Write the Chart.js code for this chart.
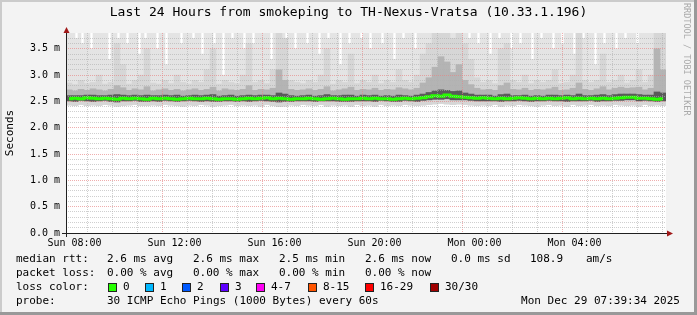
<!DOCTYPE html>
<html>
<head>
<meta charset="utf-8">
<title>Smokeping - TH-Nexus-Vratsa</title>
<script src="https://cdn.jsdelivr.net/npm/chart.js"></script>
<style>
    body { margin: 0; background: #f3f3f3; }
    #wrap { position: relative; width: 697px; height: 315px; overflow: hidden; }
    .t { position: absolute; font: 11px "DejaVu Sans Mono", monospace; line-height: 14px; white-space: pre; color: #000; }
    .box { position: absolute; width: 7px; height: 7px; border: 1px solid #222; }
    #rrd { position: absolute; left: 682px; top: 3px; writing-mode: vertical-rl; font: 8.5px "DejaVu Sans Mono", monospace; color: #aaa; white-space: pre; }
</style>
</head>
<body>
<div id="wrap">
    <canvas id="chart" width="697" height="315"></canvas>

    <div class="t" style="left:16px; top:252px">median rtt:</div>
    <div class="t" style="left:107px; top:252px">2.6 ms avg</div>
    <div class="t" style="left:193px; top:252px">2.6 ms max</div>
    <div class="t" style="left:279px; top:252px">2.5 ms min</div>
    <div class="t" style="left:365px; top:252px">2.6 ms now</div>
    <div class="t" style="left:451px; top:252px">0.0 ms sd</div>
    <div class="t" style="left:530px; top:252px">108.9</div>
    <div class="t" style="left:586px; top:252px">am/s</div>

    <div class="t" style="left:16px; top:266px">packet loss:</div>
    <div class="t" style="left:107px; top:266px">0.00 % avg</div>
    <div class="t" style="left:193px; top:266px">0.00 % max</div>
    <div class="t" style="left:279px; top:266px">0.00 % min</div>
    <div class="t" style="left:365px; top:266px">0.00 % now</div>

    <div class="t" style="left:16px; top:280px">loss color:</div>
    <div id="losskey"></div>

    <div class="t" style="left:16px; top:294px">probe:</div>
    <div class="t" style="left:107px; top:294px">30 ICMP Echo Pings (1000 Bytes) every 60s</div>
    <div class="t" style="right:17px; top:294px">Mon Dec 29 07:39:34 2025</div>

    <div id="rrd">RRDTOOL / TOBI OETIKER</div>
</div>

<script>
    // time axis: hours since Sunday 00:00
    const startHour = 7 + 39 / 60 + 34 / 3600;   // Sun 07:39:34
    const spanHours = 24;
    const colHours = 0.24;                        // smoke column = 14.4 min
    const fineHours = 0.12;                       // max-rtt column = 7.2 min

    const hourTicks = [8, 9, 10, 11, 12, 13, 14, 15, 16, 17, 18, 19, 20, 21, 22, 23, 24, 25, 26, 27, 28, 29, 30, 31];
    const labelHours = [8, 12, 16, 20, 24, 28];
    const labelText = ['Sun 08:00', 'Sun 12:00', 'Sun 16:00', 'Sun 20:00', 'Mon 00:00', 'Mon 04:00'];

    const yMax = 3.8;
    const yLabels = ['0.0 m', '0.5 m', '1.0 m', '1.5 m', '2.0 m', '2.5 m', '3.0 m', '3.5 m'];

    const lossNames = ['0', '1', '2', '3', '4-7', '8-15', '16-29', '30/30'];
    const lossColors = ['#26ff00', '#00b8ff', '#0059ff', '#5e00ff', '#ff00f5', '#ff5500', '#ff0000', '#a00000'];

    // median rtt per column (ms)
    const medianRtt = [
        2.55, 2.56, 2.55, 2.57, 2.56, 2.55, 2.56, 2.55, 2.54, 2.56,
        2.55, 2.56, 2.55, 2.54, 2.56, 2.55, 2.56, 2.55, 2.54, 2.55,
        2.56, 2.55, 2.55, 2.56, 2.55, 2.54, 2.55, 2.55, 2.54, 2.55,
        2.56, 2.55, 2.56, 2.57, 2.55, 2.56, 2.55, 2.54, 2.55, 2.55,
        2.56, 2.55, 2.54, 2.55, 2.56, 2.55, 2.54, 2.55, 2.55, 2.56,
        2.55, 2.56, 2.55, 2.55, 2.54, 2.55, 2.56, 2.55, 2.56, 2.57,
        2.59, 2.61, 2.60, 2.62, 2.60, 2.59, 2.58, 2.57, 2.56, 2.57,
        2.56, 2.55, 2.56, 2.55, 2.56, 2.57, 2.56, 2.55, 2.56, 2.55,
        2.56, 2.55, 2.56, 2.57, 2.55, 2.56, 2.55, 2.56, 2.55, 2.56,
        2.55, 2.56, 2.57, 2.58, 2.58, 2.56, 2.56, 2.55, 2.54, 2.55
    ];
    // fastest ping per column
    const minRtt = [
        2.43, 2.42, 2.44, 2.42, 2.43, 2.42, 2.44, 2.43, 2.41, 2.42,
        2.43, 2.44, 2.42, 2.42, 2.43, 2.42, 2.44, 2.43, 2.42, 2.41,
        2.43, 2.42, 2.44, 2.43, 2.41, 2.42, 2.43, 2.44, 2.42, 2.43,
        2.42, 2.43, 2.41, 2.44, 2.42, 2.40, 2.41, 2.43, 2.42, 2.44,
        2.43, 2.42, 2.44, 2.41, 2.43, 2.42, 2.43, 2.41, 2.44, 2.42,
        2.43, 2.41, 2.44, 2.42, 2.43, 2.42, 2.44, 2.43, 2.42, 2.43,
        2.44, 2.45, 2.46, 2.45, 2.44, 2.45, 2.44, 2.43, 2.42, 2.43,
        2.42, 2.44, 2.41, 2.43, 2.42, 2.44, 2.43, 2.42, 2.41, 2.43,
        2.44, 2.42, 2.43, 2.41, 2.44, 2.42, 2.43, 2.44, 2.42, 2.43,
        2.42, 2.44, 2.43, 2.42, 2.43, 2.41, 2.44, 2.42, 2.43, 2.42
    ];
    // lower edge of the dense smoke around the median
    const lowRtt = [
        2.51, 2.50, 2.52, 2.51, 2.50, 2.51, 2.52, 2.50, 2.49, 2.51,
        2.51, 2.52, 2.50, 2.50, 2.51, 2.50, 2.52, 2.51, 2.50, 2.51,
        2.52, 2.51, 2.50, 2.51, 2.50, 2.50, 2.51, 2.51, 2.50, 2.51,
        2.50, 2.51, 2.52, 2.51, 2.50, 2.49, 2.50, 2.50, 2.51, 2.51,
        2.51, 2.50, 2.51, 2.51, 2.51, 2.50, 2.50, 2.50, 2.51, 2.51,
        2.51, 2.50, 2.52, 2.51, 2.50, 2.50, 2.52, 2.51, 2.50, 2.52,
        2.53, 2.54, 2.54, 2.55, 2.53, 2.53, 2.53, 2.52, 2.51, 2.51,
        2.51, 2.51, 2.50, 2.51, 2.51, 2.52, 2.51, 2.50, 2.51, 2.51,
        2.52, 2.51, 2.51, 2.50, 2.51, 2.51, 2.51, 2.52, 2.50, 2.51,
        2.51, 2.52, 2.52, 2.53, 2.53, 2.51, 2.52, 2.51, 2.50, 2.51
    ];
    // top of the dark core around the median
    const coreTop = [
        2.61, 2.61, 2.61, 2.62, 2.62, 2.61, 2.61, 2.62, 2.63, 2.62,
        2.61, 2.62, 2.61, 2.62, 2.61, 2.61, 2.62, 2.61, 2.62, 2.60,
        2.61, 2.62, 2.61, 2.62, 2.63, 2.60, 2.61, 2.62, 2.60, 2.61,
        2.62, 2.61, 2.62, 2.62, 2.61, 2.66, 2.64, 2.61, 2.60, 2.61,
        2.62, 2.60, 2.61, 2.63, 2.61, 2.61, 2.62, 2.62, 2.60, 2.62,
        2.61, 2.62, 2.60, 2.61, 2.60, 2.62, 2.61, 2.60, 2.62, 2.64,
        2.67, 2.70, 2.72, 2.71, 2.69, 2.70, 2.66, 2.64, 2.62, 2.62,
        2.62, 2.60, 2.63, 2.64, 2.61, 2.61, 2.62, 2.60, 2.61, 2.60,
        2.62, 2.62, 2.61, 2.62, 2.61, 2.64, 2.61, 2.61, 2.62, 2.63,
        2.61, 2.63, 2.64, 2.64, 2.64, 2.63, 2.62, 2.62, 2.68, 2.66
    ];
    // top of the middle grey smoke
    const nearTop = [
        2.72, 2.70, 2.73, 2.71, 2.74, 2.72, 2.70, 2.73, 2.80, 2.76,
        2.71, 2.74, 2.72, 2.78, 2.70, 2.72, 2.74, 2.71, 2.73, 2.70,
        2.72, 2.74, 2.71, 2.73, 2.77, 2.70, 2.74, 2.72, 2.71, 2.73,
        2.80, 2.71, 2.73, 2.72, 2.75, 3.10, 2.90, 2.73, 2.71, 2.72,
        2.74, 2.71, 2.73, 2.78, 2.70, 2.72, 2.74, 2.77, 2.71, 2.73,
        2.72, 2.75, 2.71, 2.73, 2.72, 2.76, 2.74, 2.72, 2.75, 2.85,
        2.95, 3.15, 3.35, 3.25, 3.05, 3.20, 2.90, 2.82, 2.75, 2.72,
        2.73, 2.71, 2.80, 2.85, 2.73, 2.72, 2.75, 2.71, 2.73, 2.72,
        2.74, 2.77, 2.71, 2.72, 2.75, 2.85, 2.73, 2.71, 2.74, 2.78,
        2.72, 2.75, 2.77, 2.75, 2.76, 2.77, 2.72, 2.75, 3.50, 3.10
    ];
    // top of the light-mid grey smoke
    const upperTop = [
        2.85, 2.82, 2.90, 2.84, 2.86, 3.00, 2.83, 2.86, 3.60, 3.20,
        2.83, 2.90, 3.00, 3.50, 2.85, 2.83, 2.90, 2.84, 3.00, 2.86,
        2.83, 2.90, 2.86, 3.10, 3.50, 2.83, 2.90, 2.86, 2.84, 3.00,
        3.60, 2.86, 2.90, 2.84, 3.10, 3.90, 3.70, 2.90, 2.86, 2.84,
        2.90, 2.86, 3.00, 3.50, 2.83, 2.90, 2.86, 3.40, 2.84, 2.90,
        2.86, 3.00, 2.84, 2.90, 2.86, 3.10, 2.90, 2.86, 3.00, 3.40,
        3.60, 3.80, 3.90, 3.90, 3.70, 3.90, 3.60, 3.30, 2.95, 2.86,
        2.90, 2.84, 3.50, 3.60, 2.90, 2.86, 3.00, 2.84, 2.90, 2.86,
        2.90, 3.10, 2.84, 2.86, 3.00, 3.90, 2.90, 2.86, 2.90, 3.40,
        2.86, 2.90, 3.00, 2.85, 2.90, 3.10, 2.86, 3.00, 3.90, 3.90
    ];
    // slowest ping per 7.2 min column (3.9 = off the top of the graph)
    const maxRtt = [
        3.9, 3.9, 3.9, 3.7, 3.9, 3.6, 3.9, 3.9, 3.5, 3.9, 3.9, 3.9, 3.8, 3.9, 3.3, 3.9, 3.9, 3.7, 3.9, 3.9,
        3.6, 3.9, 3.9, 3.9, 3.4, 3.9, 3.7, 3.9, 3.9, 3.9, 3.5, 3.9, 3.9, 3.2, 3.9, 3.9, 3.8, 3.9, 3.6, 3.9,
        3.9, 3.9, 3.7, 3.9, 3.9, 3.4, 3.9, 3.9, 3.9, 3.6, 3.9, 3.9, 3.0, 3.9, 3.9, 3.7, 3.9, 3.9, 3.9, 3.5,
        3.9, 3.9, 3.6, 3.9, 3.9, 3.9, 3.8, 3.9, 3.3, 3.9, 3.9, 3.9, 3.9, 3.7, 3.9, 3.9, 3.5, 3.9, 3.9, 3.9,
        3.6, 3.9, 3.9, 3.9, 3.4, 3.9, 3.9, 3.7, 3.9, 3.9, 3.9, 3.2, 3.9, 3.9, 3.6, 3.9, 3.9, 3.9, 3.7, 3.9,
        3.9, 3.5, 3.9, 3.9, 3.9, 3.6, 3.9, 3.9, 3.9, 3.3, 3.9, 3.9, 3.7, 3.9, 3.9, 3.9, 3.5, 3.9, 3.9, 3.8,
        3.9, 3.9, 3.9, 3.9, 3.9, 3.9, 3.9, 3.9, 3.9, 3.9, 3.9, 3.9, 3.9, 3.9, 3.7, 3.9, 3.9, 3.6, 3.9, 3.9,
        3.9, 3.4, 3.9, 3.9, 3.7, 3.9, 3.9, 3.9, 3.5, 3.9, 3.9, 3.6, 3.9, 3.9, 3.9, 3.3, 3.9, 3.9, 3.7, 3.9,
        3.9, 3.9, 3.5, 3.9, 3.9, 3.6, 3.9, 3.9, 3.9, 3.4, 3.9, 3.9, 3.7, 3.9, 3.9, 3.9, 3.2, 3.9, 3.9, 3.6,
        3.9, 3.9, 3.9, 3.5, 3.9, 3.9, 3.7, 3.9, 3.9, 3.9, 3.6, 3.9, 3.9, 3.9, 3.9, 3.9, 3.9, 3.9, 3.8, 3.9
    ];

    // loss colour key
    const boxLeft = [108, 145, 182, 220, 256, 308, 365, 430];
    const keyDiv = document.getElementById('losskey');
    lossNames.forEach((name, i) => {
        const box = document.createElement('span');
        box.className = 'box';
        box.style.left = boxLeft[i] + 'px';
        box.style.top = '283px';
        box.style.background = lossColors[i];
        keyDiv.appendChild(box);
        const txt = document.createElement('span');
        txt.className = 't';
        txt.style.left = (boxLeft[i] + 15) + 'px';
        txt.style.top = '280px';
        txt.textContent = name;
        keyDiv.appendChild(txt);
    });

    const colX = medianRtt.map((_, i) => startHour + (i + 0.5) * colHours);
    const fineX = maxRtt.map((_, i) => startHour + (i + 0.5) * fineHours);
    function band(lo, hi) {
        return colX.map((x, i) => ({ x: x, y: [lo[i], hi[i]] }));
    }
    function isMajor(v) {
        return Math.abs(v * 2 - Math.round(v * 2)) < 1e-6;
    }

    const majorGrid = 'rgba(230,130,130,0.65)';
    const minorGrid = 'rgba(175,175,175,0.6)';

    // background, plot canvas, frame and the rrdtool style axes
    const rrdFrame = {
        id: 'rrdFrame',
        beforeDraw(chart) {
            const { ctx, chartArea: a, width, height } = chart;
            ctx.save();
            ctx.fillStyle = '#f3f3f3';
            ctx.fillRect(0, 0, width, height);
            ctx.fillStyle = '#cbcbcb';
            ctx.fillRect(0, 0, width, 2);
            ctx.fillRect(0, 0, 2, height);
            ctx.fillStyle = '#999999';
            ctx.fillRect(0, height - 3, width, 3);
            ctx.fillRect(width - 3, 0, 3, height);
            ctx.fillStyle = '#ffffff';
            ctx.fillRect(a.left, a.top, a.right - a.left, a.bottom - a.top);
            ctx.restore();
        },
        afterDraw(chart) {
            const { ctx, chartArea: a } = chart;
            ctx.save();
            ctx.strokeStyle = '#202020';
            ctx.lineWidth = 1;
            ctx.beginPath();
            ctx.moveTo(a.left - 4, a.bottom + 0.5);
            ctx.lineTo(a.right + 2, a.bottom + 0.5);
            ctx.moveTo(a.left + 0.5, a.bottom + 4);
            ctx.lineTo(a.left + 0.5, a.top - 1);
            ctx.stroke();
            ctx.fillStyle = '#a01818';
            ctx.beginPath();
            ctx.moveTo(a.right + 7, a.bottom + 0.5);
            ctx.lineTo(a.right + 1, a.bottom - 2.5);
            ctx.lineTo(a.right + 1, a.bottom + 3.5);
            ctx.closePath();
            ctx.fill();
            ctx.beginPath();
            ctx.moveTo(a.left + 0.5, a.top - 6);
            ctx.lineTo(a.left - 2.5, a.top);
            ctx.lineTo(a.left + 3.5, a.top);
            ctx.closePath();
            ctx.fill();
            ctx.restore();
        }
    };

    Chart.defaults.font.family = "'DejaVu Sans Mono', monospace";
    Chart.defaults.color = '#000';

    const ctx = document.getElementById('chart').getContext('2d');
    new Chart(ctx, {
        type: 'bar',
        data: {
            datasets: [
                {
                    type: 'line',
                    label: 'median rtt',
                    data: colX.map((x, i) => ({ x: x, y: medianRtt[i] })),
                    borderColor: '#26ff00',
                    borderWidth: 3,
                    pointRadius: 0,
                    stepped: 'middle',
                    order: 0
                },
                { label: 'core', data: band(lowRtt, coreTop), backgroundColor: '#5a5a5a', barThickness: 6, order: 1 },
                { label: 'near', data: band(lowRtt, nearTop), backgroundColor: '#b4b4b4', barThickness: 6, order: 2 },
                { label: 'upper', data: band(minRtt, upperTop), backgroundColor: '#d6d6d6', barThickness: 6, order: 3 },
                {
                    label: 'range',
                    data: fineX.map((x, i) => ({ x: x, y: [minRtt[Math.floor(i / 2)], maxRtt[i]] })),
                    backgroundColor: '#e4e4e4',
                    barThickness: 3,
                    order: 4
                }
            ]
        },
        options: {
            responsive: false,
            animation: false,
            devicePixelRatio: 1,
            layout: { padding: 0 },
            datasets: {
                bar: { grouped: false, borderWidth: 0 }
            },
            plugins: {
                legend: { display: false },
                tooltip: { enabled: false },
                title: {
                    display: true,
                    text: 'Last 24 Hours from smokeping to TH-Nexus-Vratsa (10.33.1.196)',
                    font: { size: 13, weight: 'normal' },
                    color: '#000',
                    padding: { top: 5, bottom: 12.4 }
                }
            },
            scales: {
                x: {
                    type: 'linear',
                    offset: false,
                    min: startHour,
                    max: startHour + spanHours,
                    afterBuildTicks: s => { s.ticks = hourTicks.map(v => ({ value: v })); },
                    afterFit: s => { s.height = 82; },
                    ticks: {
                        autoSkip: false,
                        maxRotation: 0,
                        padding: 4,
                        font: { size: 10 },
                        callback: v => {
                            const k = labelHours.indexOf(v);
                            return k >= 0 ? labelText[k] : '';
                        }
                    },
                    grid: {
                        drawTicks: false,
                        z: 1,
                        lineWidth: 1,
                        color: c => (c.tick && c.tick.value % 4 === 0) ? majorGrid : minorGrid
                    },
                    border: { display: false, dash: [1, 1] }
                },
                y: {
                    min: 0,
                    max: yMax,
                    afterBuildTicks: s => {
                        const t = [];
                        for (let k = 0; k < 38; k++) t.push({ value: k / 10 });
                        s.ticks = t;
                    },
                    afterFit: s => { s.width = 66; },
                    ticks: {
                        autoSkip: false,
                        padding: 6,
                        font: { size: 10 },
                        callback: v => isMajor(v) ? yLabels[Math.round(v * 2)] : ''
                    },
                    grid: {
                        drawTicks: false,
                        z: 1,
                        lineWidth: 1,
                        color: c => (c.tick && isMajor(c.tick.value)) ? majorGrid : minorGrid
                    },
                    border: { display: false, dash: [1, 1] },
                    title: {
                        display: true,
                        text: 'Seconds',
                        font: { size: 11 },
                        color: '#000',
                        padding: { top: 4, bottom: 0 }
                    }
                },
                // empty right-hand strip that holds the rrdtool watermark
                yRight: {
                    type: 'linear',
                    position: 'right',
                    display: true,
                    afterFit: s => { s.width = 31; },
                    ticks: { display: false },
                    grid: { display: false },
                    border: { display: false }
                }
            }
        },
        plugins: [rrdFrame]
    });
</script>
</body>
</html>
